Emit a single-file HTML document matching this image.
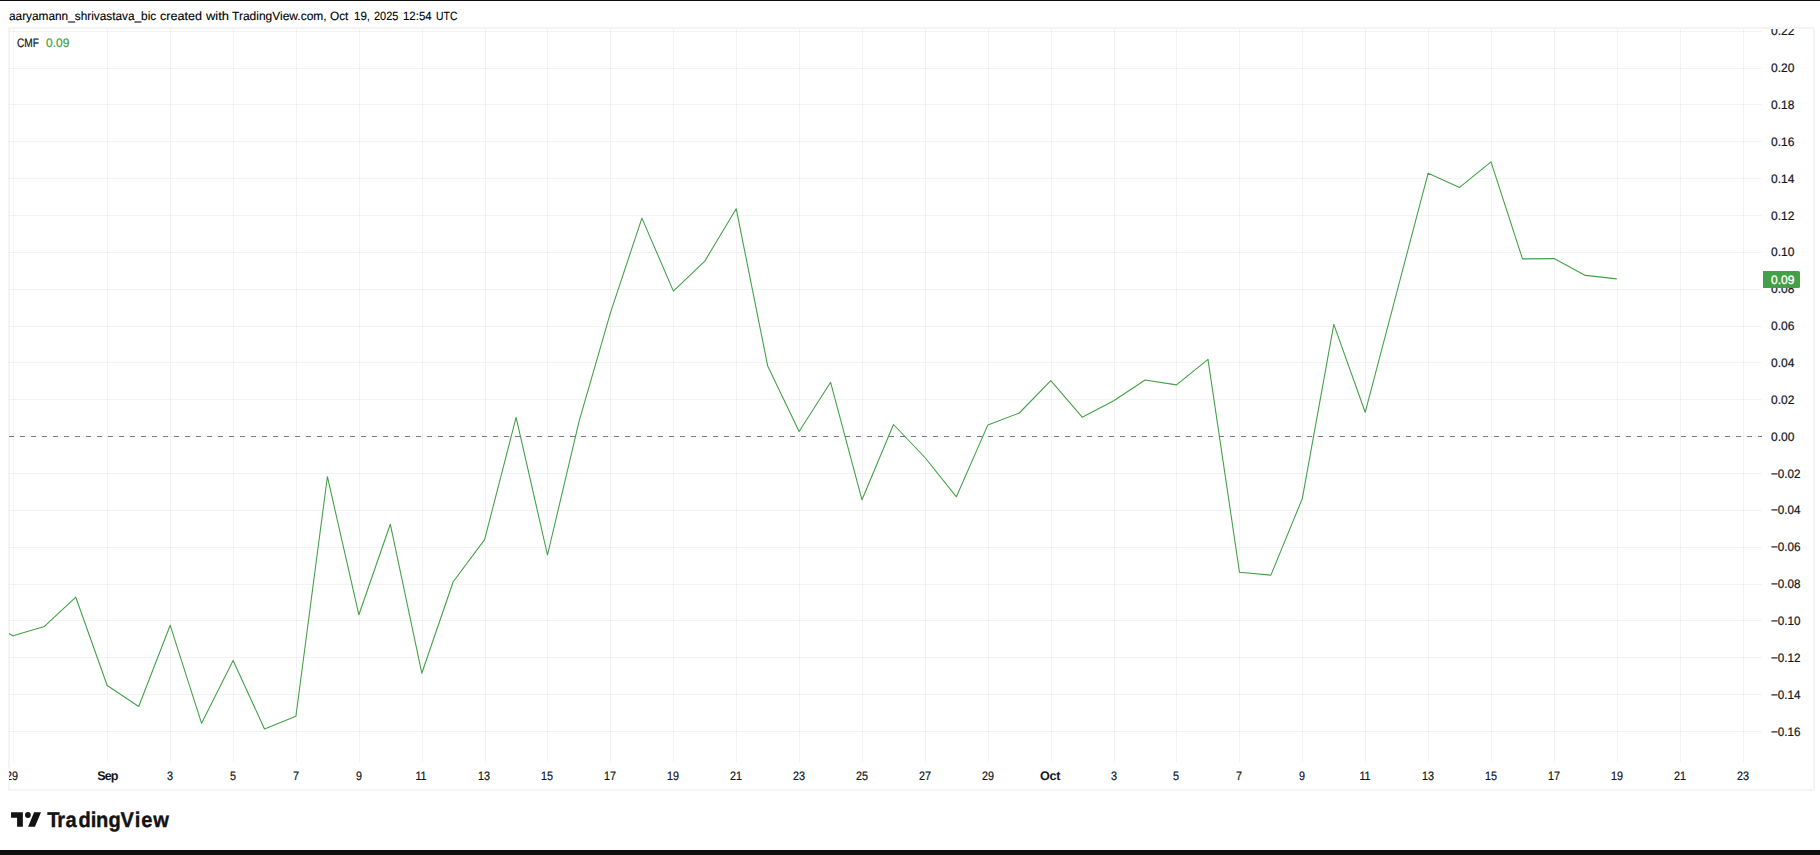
<!DOCTYPE html>
<html lang="en">
<head>
<meta charset="utf-8">
<title>CMF chart - TradingView</title>
<style>
html,body{margin:0;padding:0;}
body{width:1820px;height:855px;background:#fff;position:relative;overflow:hidden;
 font-family:"Liberation Sans",sans-serif;color:#131722;font-size:12px;-webkit-text-stroke:0.22px;text-rendering:geometricPrecision;}
.bar{position:absolute;left:0;width:1820px;background:#0f0f0f;}
#topbar{top:0;height:1px;}
#botbar{top:850px;height:5px;}
#hdr{position:absolute;left:0;top:9px;height:14px;line-height:14px;font-size:12px;white-space:nowrap;color:#000;-webkit-text-stroke:0.12px #000;}
#hdr span{position:absolute;top:0;transform-origin:0 50%;}
#chart{position:absolute;left:0;top:0;width:1820px;height:855px;}
.yl{position:absolute;left:8px;transform-origin:0 50%;transform:scaleX(0.972);height:14px;line-height:14px;font-size:12.35px;white-space:nowrap;}
.xl{position:absolute;top:769px;width:60px;margin-left:-30.6px;text-align:center;height:14px;line-height:14px;font-size:12.35px;white-space:nowrap;transform:scaleX(0.875);}
.xl.m{font-size:12.6px;font-weight:bold;letter-spacing:-0.9px;margin-left:-30px;transform:none;-webkit-text-stroke:0;}
#legend{position:absolute;left:0;top:36px;height:14px;line-height:14px;font-size:12.35px;white-space:nowrap;}
#legend span{position:absolute;top:0;transform-origin:0 50%;}
#legend .v{color:#43a047;}
#last{position:absolute;left:1763px;top:271px;width:37px;height:17px;background:#43a047;border-radius:0 1.5px 1.5px 0;color:#fff;font-size:12.35px;line-height:14px;}
#last span{position:absolute;left:8px;top:2px;-webkit-text-stroke:0.3px #fff;transform:scaleX(0.972);transform-origin:0 50%;}
#axisclip{position:absolute;left:1763px;top:29px;width:50px;height:760px;overflow:hidden;}
#xclip{position:absolute;left:9px;top:0;width:1805px;height:855px;overflow:hidden;}
#logo{position:absolute;left:8px;top:808px;}
#logotext{position:absolute;left:0;top:800px;}

</style>
</head>
<body>
<div class="bar" id="topbar"></div>
<div id="hdr">
<span id="h0" style="left:8.56px;transform:scale(0.9852,1)">aaryamann_shrivastava_bic</span> 
<span id="h1" style="left:159.58px;transform:scale(1.0487,1)">created</span> 
<span id="h2" style="left:205.69px;transform:scale(1.0810,1)">with</span> 
<span id="h3" style="left:231.94px;transform:scale(0.9995,1)">TradingView.com,</span> 
<span id="h4" style="left:329.56px;transform:scale(0.9838,1)">Oct</span> 
<span id="h5" style="left:353.55px;transform:scale(0.9574,1)">19,</span> 
<span id="h6" style="left:373.59px;transform:scale(0.9115,1)">2025</span> 
<span id="h7" style="left:402.70px;transform:scale(0.9552,1)">12:54</span> 
<span id="h8" style="left:435.74px;transform:scale(0.8674,1)">UTC</span> 
</div>
<svg id="chart" width="1820" height="855" viewBox="0 0 1820 855">
<defs><clipPath id="pane"><rect x="9" y="29" width="1753" height="733"/></clipPath></defs>
<rect x="9" y="28" width="1805" height="762" fill="none" stroke="#f4f4f4" stroke-width="2"/>
<path d="M13.5 29 V762 M107.5 29 V762 M170.5 29 V762 M233.5 29 V762 M296.5 29 V762 M359.5 29 V762 M422.5 29 V762 M485.5 29 V762 M547.5 29 V762 M610.5 29 V762 M673.5 29 V762 M736.5 29 V762 M799.5 29 V762 M862.5 29 V762 M925.5 29 V762 M988.5 29 V762 M1051.5 29 V762 M1114.5 29 V762 M1176.5 29 V762 M1239.5 29 V762 M1302.5 29 V762 M1365.5 29 V762 M1428.5 29 V762 M1491.5 29 V762 M1554.5 29 V762 M1617.5 29 V762 M1680.5 29 V762 M1743.5 29 V762" stroke="#1e2828" stroke-opacity="0.055" stroke-width="1" fill="none"/>
<path d="M9 731.5 H1762 M9 694.5 H1762 M9 657.5 H1762 M9 620.5 H1762 M9 584.5 H1762 M9 547.5 H1762 M9 510.5 H1762 M9 473.5 H1762 M9 436.5 H1762 M9 399.5 H1762 M9 362.5 H1762 M9 326.5 H1762 M9 289.5 H1762 M9 252.5 H1762 M9 215.5 H1762 M9 178.5 H1762 M9 141.5 H1762 M9 104.5 H1762 M9 68.5 H1762 M9 31.5 H1762" stroke="#1e2828" stroke-opacity="0.055" stroke-width="1" fill="none"/>
<path d="M9 436.5 H1762" stroke="#787b86" stroke-width="1" stroke-dasharray="5 6" fill="none"/>
<polyline clip-path="url(#pane)" points="-18.5,618.5 12.9,635.7 44.4,626.4 75.8,597.2 107.2,685.5 138.7,706.5 170.2,625.3 201.6,723.3 233.1,660.4 264.5,728.9 295.9,716.2 327.4,476.7 358.9,614.8 390.3,524.2 421.8,673.2 453.2,581.8 484.6,539.6 516.1,417.4 547.5,555.0 579.0,421.6 610.5,312.6 641.9,218.1 673.4,291.1 704.8,261.1 736.2,208.7 767.7,365.9 799.1,431.5 830.6,382.3 862.0,499.8 893.5,424.5 924.9,457.5 956.4,496.8 987.9,424.9 1019.3,413.0 1050.8,380.7 1082.2,417.2 1113.7,400.7 1145.1,380.0 1176.5,384.9 1208.0,359.3 1239.5,572.3 1270.9,575.1 1302.3,498.6 1333.8,324.4 1365.2,412.3 1396.7,292.6 1428.1,173.3 1459.6,187.4 1491.0,161.8 1522.5,258.9 1554.0,258.6 1585.4,275.4 1616.8,278.9" fill="none" stroke="#43a047" stroke-width="1.08" stroke-linejoin="round"/>
</svg>
<div id="legend"><span style="left:17.1px;transform:scaleX(0.82)">CMF</span> <span class="v" style="left:46px;transform:scaleX(0.972)">0.09</span></div>
<div id="axisclip">
<div class="yl" style="top:696px;transform:scaleX(0.945)">−0.16</div>
<div class="yl" style="top:659px;transform:scaleX(0.945)">−0.14</div>
<div class="yl" style="top:622px;transform:scaleX(0.945)">−0.12</div>
<div class="yl" style="top:585px;transform:scaleX(0.945)">−0.10</div>
<div class="yl" style="top:548px;transform:scaleX(0.945)">−0.08</div>
<div class="yl" style="top:511px;transform:scaleX(0.945)">−0.06</div>
<div class="yl" style="top:474px;transform:scaleX(0.945)">−0.04</div>
<div class="yl" style="top:438px;transform:scaleX(0.945)">−0.02</div>
<div class="yl" style="top:401px">0.00</div>
<div class="yl" style="top:364px">0.02</div>
<div class="yl" style="top:327px">0.04</div>
<div class="yl" style="top:290px">0.06</div>
<div class="yl" style="top:253px">0.08</div>
<div class="yl" style="top:216px">0.10</div>
<div class="yl" style="top:180px">0.12</div>
<div class="yl" style="top:143px">0.14</div>
<div class="yl" style="top:106px">0.16</div>
<div class="yl" style="top:69px">0.18</div>
<div class="yl" style="top:32px">0.20</div>
<div class="yl" style="top:-5px">0.22</div>
</div>
<div id="last"><span>0.09</span></div>
<div id="xclip">
<div class="xl" style="left:4.0px">29</div>
<div class="xl m" style="left:98.4px">Sep</div>
<div class="xl" style="left:161.3px">3</div>
<div class="xl" style="left:224.2px">5</div>
<div class="xl" style="left:287.2px">7</div>
<div class="xl" style="left:350.1px">9</div>
<div class="xl" style="left:413.0px">11</div>
<div class="xl" style="left:475.9px">13</div>
<div class="xl" style="left:538.8px">15</div>
<div class="xl" style="left:601.8px">17</div>
<div class="xl" style="left:664.7px">19</div>
<div class="xl" style="left:727.6px">21</div>
<div class="xl" style="left:790.5px">23</div>
<div class="xl" style="left:853.4px">25</div>
<div class="xl" style="left:916.4px">27</div>
<div class="xl" style="left:979.3px">29</div>
<div class="xl m" style="left:1042.2px;letter-spacing:-0.3px;margin-left:-31.2px">Oct</div>
<div class="xl" style="left:1105.1px">3</div>
<div class="xl" style="left:1168.0px">5</div>
<div class="xl" style="left:1231.0px">7</div>
<div class="xl" style="left:1293.9px">9</div>
<div class="xl" style="left:1356.8px">11</div>
<div class="xl" style="left:1419.7px">13</div>
<div class="xl" style="left:1482.6px">15</div>
<div class="xl" style="left:1545.6px">17</div>
<div class="xl" style="left:1608.5px">19</div>
<div class="xl" style="left:1671.4px">21</div>
<div class="xl" style="left:1734.3px">23</div>
</div>
<svg id="logo" width="40" height="24" viewBox="8 808 40 24">
<path d="M11.04 812.13H22.86V826.64H17.09V817.74H11.04Z M34.1 812.13H41L34.95 826.64H28.08Z" fill="#131313"/>
<circle cx="27.9" cy="815" r="2.9" fill="#131313"/>
</svg>
<svg id="logotext" width="200" height="40" viewBox="0 800 200 40">
<text transform="scale(0.943,1)" x="50.13 60.75 69.38 83.13 96.12 101.69 114.96 127.67 142.90 149.69 162.40" y="827" font-family="Liberation Sans, sans-serif" font-weight="bold" font-size="21.3" fill="#131313" stroke="#131313" stroke-width="0.4" text-rendering="geometricPrecision">TradingView</text>
</svg>
<div class="bar" id="botbar"></div>
</body>
</html>
